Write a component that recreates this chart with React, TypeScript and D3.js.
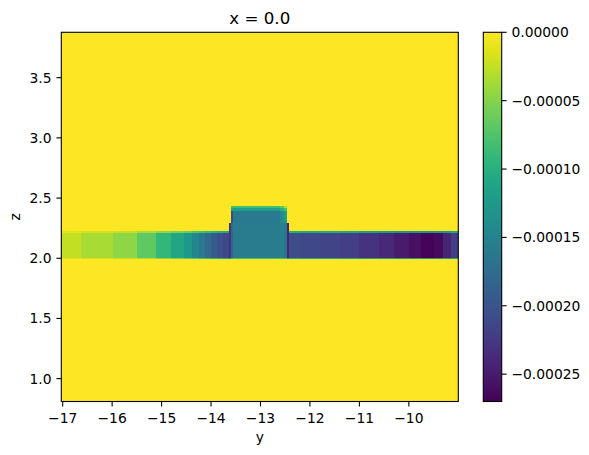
import React from "react";
import * as d3 from "d3";

// ---- data ----
const yDomain = [-17.028, -9.0];
const zDomain = [0.81, 3.877];
const colorDomain = [-0.00027, 0];

const xTicks = [-17, -16, -15, -14, -13, -12, -11, -10];
const zTicks = [1.0, 1.5, 2.0, 2.5, 3.0, 3.5];
const cbTicks = [0, -0.00005, -0.0001, -0.00015, -0.0002, -0.00025];

// slab cells along y
const bandYEdges = [
  -17.028, -16.62, -15.99, -15.5, -15.11, -14.8, -14.55, -14.39, -14.25, -14.12, -14.0,
  -13.88, -13.76, -13.64, -13.6, -13.55, -12.6, -12.53, -12.46, -12.42, -12.2, -11.8,
  -11.4, -11.0, -10.6, -10.3, -10.0, -9.75, -9.5, -9.3, -9.15, -9.0,
];
// z-edges of slab rows: bottom edge, core, top edge
const bandZEdges = [1.99, 2.005, 2.21, 2.226];
const bandCoreValues = [
  -0.0000243, -0.0000351, -0.0000459, -0.0000675, -0.0000918, -0.000111, -0.000127,
  -0.000146, -0.000162, -0.000178, -0.000192, -0.000203, -0.000211, -0.00023,
  -0.000184, -0.000159, -0.000154, -0.000167,
  -0.000243, -0.000208, -0.000211, -0.000216, -0.000221, -0.00023, -0.00024, -0.000251,
  -0.000259, -0.000267, -0.000262, -0.000243, -0.000221,
];
const bandEdgeValues = [
  -0.0000122, -0.0000176, -0.000023, -0.0000338, -0.0000459, -0.0000555, -0.0000635,
  -0.000073, -0.000081, -0.000089, -0.000096, -0.000102, -0.000106, -0.000115,
  -0.000092, -0.00008, -0.000077, -0.000084,
  -0.000122, -0.000104, -0.000106, -0.000108, -0.00011, -0.000115, -0.00012, -0.000126,
  -0.00013, -0.000134, -0.000131, -0.000122, -0.00011,
];

// ridge on top of the slab
const ridgeYEdges = [-13.64, -13.6, -13.55, -12.6, -12.53, -12.46, -12.42];
const ridgeZEdges = [2.21, 2.29, 2.395, 2.416, 2.436];
const ridgeStepRow = [-0.000235, -0.000175, -0.000159, -0.000152, -0.00016, -0.000245];
const ridgeBodyRow = [0, -0.00021, -0.00016, -0.00014, -0.00012, 0];
const ridgeCapLowRow = [0, -0.00011, -0.00012, -0.0001, -0.00008, 0];
const ridgeCapTopRow = [0, -0.00008, -0.000085, -0.00007, -0.00003, 0];

// ---- layout ----
const W = 589;
const H = 455;
const plot = { left: 61.3, right: 458.3, top: 32.3, bottom: 401.5 };
const cb = { left: 483.3, right: 501.7 };
const FONT = "DejaVu Sans, sans-serif";

const fmtMinus = (s: string) => s.replace("-", "\u2212");

export default function App() {
  const x = d3.scaleLinear().domain(yDomain).range([plot.left, plot.right]);
  const z = d3.scaleLinear().domain(zDomain).range([plot.bottom, plot.top]);
  const norm = d3.scaleLinear().domain(colorDomain).range([0, 1]).clamp(true);
  const color = (v: number) => d3.interpolateViridis(norm(v));
  const cbScale = d3.scaleLinear().domain(colorDomain).range([plot.bottom, plot.top]);

  const cells: { y0: number; y1: number; z0: number; z1: number; v: number }[] = [];
  const bandRows = [bandEdgeValues, bandCoreValues, bandEdgeValues];
  bandRows.forEach((row, r) => {
    row.forEach((v, i) => {
      cells.push({ y0: bandYEdges[i], y1: bandYEdges[i + 1], z0: bandZEdges[r], z1: bandZEdges[r + 1], v });
    });
  });
  const ridgeRows = [ridgeStepRow, ridgeBodyRow, ridgeCapLowRow, ridgeCapTopRow];
  ridgeRows.forEach((row, r) => {
    row.forEach((v, i) => {
      if (v === 0) return;
      cells.push({ y0: ridgeYEdges[i], y1: ridgeYEdges[i + 1], z0: ridgeZEdges[r], z1: ridgeZEdges[r + 1], v });
    });
  });

  const stops = d3.range(0, 1.0001, 0.05);

  return (
    <svg width={W} height={H} style={{ position: "absolute", left: 0, top: 0, background: "#fff" }} fontFamily={FONT}>
      <defs>
        <linearGradient id="viridis" x1="0" y1="1" x2="0" y2="0">
          {stops.map((s) => (
            <stop key={s} offset={s} stopColor={d3.interpolateViridis(s)} />
          ))}
        </linearGradient>
        <clipPath id="plotclip">
          <rect x={plot.left} y={plot.top} width={plot.right - plot.left} height={plot.bottom - plot.top} />
        </clipPath>
      </defs>

      {/* title */}
      <text x={(plot.left + plot.right) / 2} y={24} textAnchor="middle" fontSize={16.67} fill="#000">
        x = 0.0
      </text>

      {/* field */}
      <g clipPath="url(#plotclip)" shapeRendering="crispEdges">
        <rect
          x={x(yDomain[0])}
          y={z(zDomain[1])}
          width={x(yDomain[1]) - x(yDomain[0])}
          height={z(zDomain[0]) - z(zDomain[1])}
          fill={color(0)}
        />
        {cells.map((c, i) => (
          <rect
            key={i}
            x={x(c.y0)}
            y={z(c.z1)}
            width={x(c.y1) - x(c.y0)}
            height={z(c.z0) - z(c.z1)}
            fill={color(c.v)}
          />
        ))}
      </g>

      {/* frame */}
      <rect
        x={plot.left}
        y={plot.top}
        width={plot.right - plot.left}
        height={plot.bottom - plot.top}
        fill="none"
        stroke="#000"
        strokeWidth={1.1}
      />

      {/* x axis */}
      {xTicks.map((t) => (
        <g key={t}>
          <line x1={x(t)} x2={x(t)} y1={plot.bottom} y2={plot.bottom + 4.9} stroke="#000" strokeWidth={1.1} />
          <text x={x(t)} y={422.5} textAnchor="middle" fontSize={13.89} fill="#000">
            {fmtMinus(String(t))}
          </text>
        </g>
      ))}
      <text x={(plot.left + plot.right) / 2} y={441.5} textAnchor="middle" fontSize={13.89} fill="#000">
        y
      </text>

      {/* z axis */}
      {zTicks.map((t) => (
        <g key={t}>
          <line x1={plot.left - 4.9} x2={plot.left} y1={z(t)} y2={z(t)} stroke="#000" strokeWidth={1.1} />
          <text x={plot.left - 9.7} y={z(t)} dy="0.36em" textAnchor="end" fontSize={13.89} fill="#000">
            {t.toFixed(1)}
          </text>
        </g>
      ))}
      <text
        transform={`translate(19.8, ${(plot.top + plot.bottom) / 2}) rotate(-90)`}
        textAnchor="middle"
        fontSize={13.89}
        fill="#000"
      >
        z
      </text>

      {/* colorbar */}
      <rect x={cb.left} y={plot.top} width={cb.right - cb.left} height={plot.bottom - plot.top} fill="url(#viridis)" />
      <rect
        x={cb.left}
        y={plot.top}
        width={cb.right - cb.left}
        height={plot.bottom - plot.top}
        fill="none"
        stroke="#000"
        strokeWidth={1.1}
      />
      {cbTicks.map((t) => (
        <g key={t}>
          <line x1={cb.right} x2={cb.right + 4.9} y1={cbScale(t)} y2={cbScale(t)} stroke="#000" strokeWidth={1.1} />
          <text x={cb.right + 9.7} y={cbScale(t)} dy="0.36em" textAnchor="start" fontSize={13.89} fill="#000">
            {fmtMinus(t.toFixed(5))}
          </text>
        </g>
      ))}
    </svg>
  );
}
